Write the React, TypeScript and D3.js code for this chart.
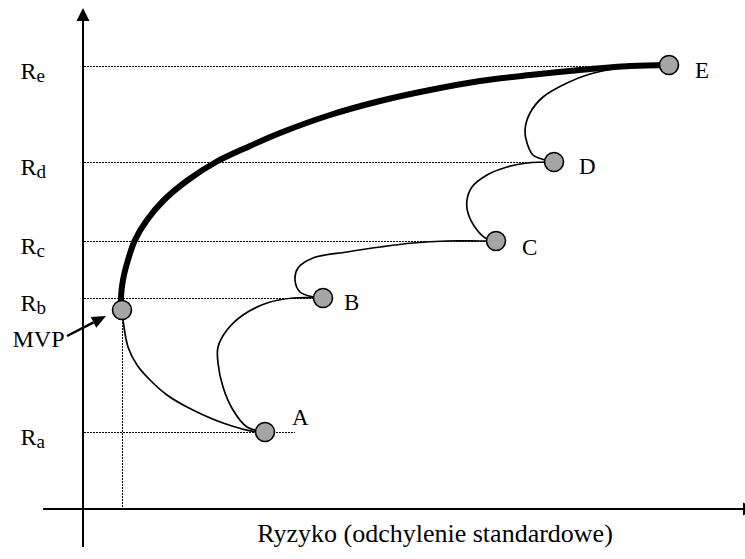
import React from "react";
import * as d3 from "d3";

// ---- data (risk = std deviation, ret = expected return; arbitrary units) ----
const portfolioNames = ["MVP", "A", "B", "C", "D", "E"];
const portfolioRisk = [3.9, 18.2, 24.0, 41.3, 47.1, 58.6];
const portfolioReturn = [19.9, 7.7, 21.1, 26.8, 34.7, 44.4];

const returnLabels = ["a", "b", "c", "d", "e"]; // R_a ... R_e
const returnLevels = [7.7, 21.1, 26.8, 34.7, 44.3];
const returnLineEnds = [21.2, 24.0, 41.3, 47.1, 54.0];

// efficient frontier (thick)
const frontierRisk = [3.9, 3.8, 4.0, 4.5, 5.2, 6.4, 8.1, 10.5, 13.3, 16.7, 19.7, 24.7, 29.7, 34.7, 39.7, 44.7, 49.7, 54.7, 58.6];
const frontierReturn = [19.9, 20.9, 22.9, 24.9, 26.9, 28.9, 30.9, 32.9, 34.7, 36.3, 37.6, 39.4, 40.8, 41.9, 42.8, 43.4, 43.9, 44.3, 44.4];

// two-asset combination curves (thin)
const curveMvpARisk = [3.9, 4.0, 4.5, 5.4, 6.7, 8.4, 10.4, 14.0, 17.4, 18.2];
const curveMvpAReturn = [19.9, 18.9, 16.2, 14.4, 12.9, 11.4, 10.2, 8.6, 7.7, 7.7];

const curveABRisk = [18.2, 16.4, 15.0, 14.0, 13.5, 13.5, 14.4, 16.0, 18.4, 21.0, 24.0];
const curveABReturn = [7.7, 8.2, 9.9, 12.2, 14.6, 16.2, 17.9, 19.4, 20.6, 21.1, 21.1];

const curveBCRisk = [24.0, 23.0, 21.7, 21.2, 21.5, 23.0, 26.4, 29.7, 33.0, 36.4, 39.7, 41.3];
const curveBCReturn = [21.1, 21.2, 21.7, 22.9, 24.1, 25.1, 25.7, 26.2, 26.6, 26.8, 26.8, 26.8];

const curveCDRisk = [41.3, 40.4, 39.4, 38.5, 38.4, 38.9, 40.4, 42.4, 44.4, 47.1];
const curveCDReturn = [26.8, 27.0, 27.9, 29.6, 30.9, 32.2, 33.4, 34.2, 34.6, 34.7];

const curveDERisk = [47.1, 46.2, 45.0, 44.4, 44.2, 44.7, 46.0, 48.4, 50.7, 53.0, 54.4, 58.6];
const curveDEReturn = [34.7, 34.9, 35.4, 36.6, 37.9, 39.6, 41.2, 42.6, 43.5, 44.0, 44.2, 44.4];

const xAxisTitle = "Ryzyko (odchylenie standardowe)";

// ---- layout ----
const W = 745;
const H = 559;
const x = d3.scaleLinear().domain([0, 66.2]).range([83, 745]);
const y = d3.scaleLinear().domain([0, 50]).range([509, 9]);

const FONT = "'Liberation Serif', 'Times New Roman', serif";

const zip = (xs: number[], ys: number[]) => xs.map((v, i) => [v, ys[i]] as [number, number]);

const line = d3
  .line<[number, number]>()
  .x((d) => x(d[0]))
  .y((d) => y(d[1]))
  .curve(d3.curveCatmullRom.alpha(0.5));

const labelOffsets: Record<string, [number, number]> = {
  A: [27, -7],
  B: [21, 12],
  C: [26, 14],
  D: [25, 12],
  E: [26, 13],
};

export default function App() {
  const thinCurves = [
    zip(curveMvpARisk, curveMvpAReturn),
    zip(curveABRisk, curveABReturn),
    zip(curveBCRisk, curveBCReturn),
    zip(curveCDRisk, curveCDReturn),
    zip(curveDERisk, curveDEReturn),
  ];
  const frontier = zip(frontierRisk, frontierReturn);

  const x0 = x(0);
  const y0 = y(0);
  const mvpX = x(portfolioRisk[0]);
  const mvpY = y(portfolioReturn[0]);

  // MVP arrow (annotation)
  const arrowStart: [number, number] = [x(-1.6), y(17.3)];
  const arrowEnd: [number, number] = [x(2.3), y(19.3)];
  const ang = Math.atan2(arrowEnd[1] - arrowStart[1], arrowEnd[0] - arrowStart[0]);
  const ah = 14;
  const aw = 6;
  const baseX = arrowEnd[0] - ah * Math.cos(ang);
  const baseY = arrowEnd[1] - ah * Math.sin(ang);
  const arrowHead = [
    [arrowEnd[0], arrowEnd[1]],
    [baseX + aw * Math.sin(ang), baseY - aw * Math.cos(ang)],
    [baseX - aw * Math.sin(ang), baseY + aw * Math.cos(ang)],
  ]
    .map((p) => p.join(","))
    .join(" ");

  const snap = (v: number) => Math.round(v) + 0.5;

  return (
    <svg
      width={W}
      height={H}
      style={{ position: "absolute", left: 0, top: 0, background: "#fff" }}
      fontFamily={FONT}
    >
      {/* dotted return guide lines */}
      {returnLevels.map((r, i) => (
        <line
          key={"g" + i}
          x1={x0 + 1}
          x2={x(returnLineEnds[i])}
          y1={snap(y(r))}
          y2={snap(y(r))}
          stroke="#000"
          strokeWidth={1}
          strokeDasharray="2 1"
        />
      ))}
      <line
        x1={snap(mvpX)}
        x2={snap(mvpX)}
        y1={mvpY}
        y2={y0}
        stroke="#000"
        strokeWidth={1}
        strokeDasharray="2 1"
      />

      {/* axes */}
      <line x1={x(-4)} x2={W - 2} y1={y0} y2={y0} stroke="#000" strokeWidth={2} />
      <polygon points={`${W + 11},${y0} ${W - 2},${y0 - 6.5} ${W - 2},${y0 + 6.5}`} fill="#000" />
      <line x1={x0} x2={x0} y1={y(-3.8)} y2={21} stroke="#000" strokeWidth={2} />
      <polygon points={`${x0},${8} ${x0 - 6.5},${21} ${x0 + 6.5},${21}`} fill="#000" />

      {/* combination curves */}
      {thinCurves.map((c, i) => (
        <path key={"c" + i} d={line(c) || ""} fill="none" stroke="#000" strokeWidth={1.7} />
      ))}
      {/* efficient frontier */}
      <path d={line(frontier) || ""} fill="none" stroke="#000" strokeWidth={6} strokeLinecap="butt" />

      {/* portfolios */}
      {portfolioNames.map((n, i) => (
        <circle
          key={n}
          cx={x(portfolioRisk[i])}
          cy={y(portfolioReturn[i])}
          r={9.5}
          fill="#a5a5a5"
          stroke="#000"
          strokeWidth={1.6}
        />
      ))}
      {portfolioNames.slice(1).map((n, i) => {
        const off = labelOffsets[n];
        return (
          <text
            key={"l" + n}
            x={x(portfolioRisk[i + 1]) + off[0]}
            y={y(portfolioReturn[i + 1]) + off[1]}
            fontSize={23}
          >
            {n}
          </text>
        );
      })}

      {/* return axis labels */}
      {returnLabels.map((s, i) => (
        <text key={"r" + s} x={20.5} y={y(returnLevels[i]) + 13} fontSize={24}>
          R
          <tspan fontSize={19} dy={3}>
            {s}
          </tspan>
        </text>
      ))}

      {/* MVP label & arrow */}
      <text x={12.5} y={347} fontSize={24}>
        MVP
      </text>
      <line
        x1={arrowStart[0]}
        y1={arrowStart[1]}
        x2={baseX}
        y2={baseY}
        stroke="#000"
        strokeWidth={2.5}
      />
      <polygon points={arrowHead} fill="#000" />

      {/* x-axis title */}
      <text x={435} y={542} fontSize={26} textAnchor="middle">
        {xAxisTitle}
      </text>
    </svg>
  );
}
